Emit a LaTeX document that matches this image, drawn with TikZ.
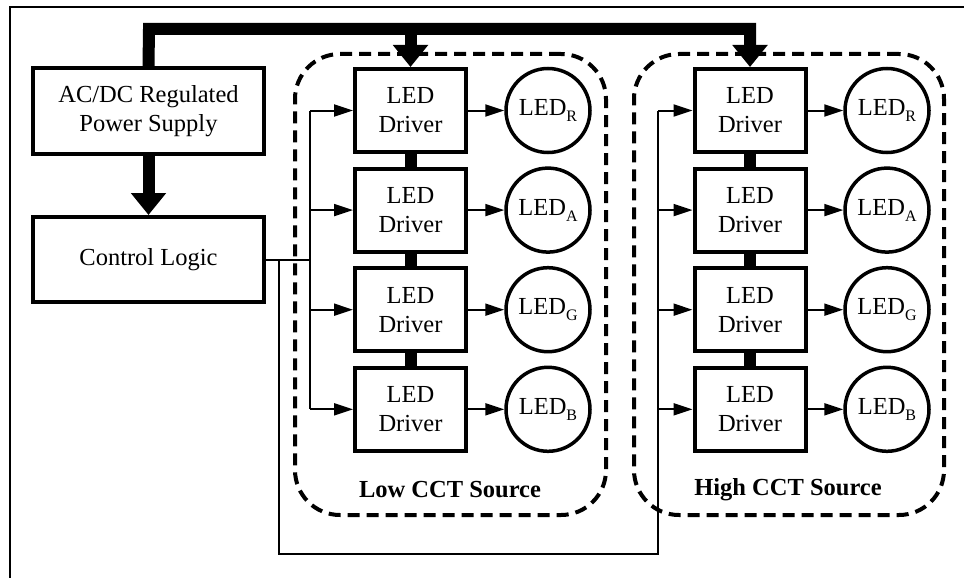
\documentclass[tikz,border=0pt]{standalone}
\usepackage{fontspec}
\setmainfont{Liberation Serif}
\usetikzlibrary{arrows.meta}
\newcommand{\ledsub}[1]{LED\raisebox{-6pt}{\fontsize{16}{16}\selectfont #1}}
\begin{document}
\begin{tikzpicture}[x=1pt,y=-1pt,
  every node/.style={font=\fontsize{24.5}{29}\selectfont},
  blk/.style={draw,line width=4pt,align=center,inner sep=0pt},
  mainbox/.style={blk,minimum width=231pt,minimum height=86pt},
  drv/.style={blk,minimum width=111pt,minimum height=83pt},
  led/.style={draw,circle,line width=3.5pt,minimum size=84pt,inner sep=0pt},
  grp/.style={draw,line width=4pt,dash pattern=on 12pt off 7pt,rounded corners=45pt,minimum height=461pt,inner sep=0pt},
  sig/.style={line width=2pt,-{Triangle[length=19pt,width=12pt]}},
  wire/.style={line width=2pt},
  bus/.style={line width=12pt,line join=miter},
  busarrow/.style={bus,-{Triangle[length=22pt,width=34pt]}},
  lbl/.style={font=\fontsize{24.5}{29}\selectfont\bfseries}
]
\useasboundingbox (0,0) rectangle (964,578);
% outer frame (only left and top edges visible)
\draw[line width=2pt] (9.5,580) -- (9.5,7) -- (966,7);

% groups
\node[grp,minimum width=311pt] (low) at (450.5,284.5) {};
\node[grp,minimum width=310pt] (high) at (789,284.5) {};
\node[lbl] (lowlbl) at (450,490) {Low CCT Source};
\node[lbl] (highlbl) at (788,490) {High CCT Source};

% main blocks
\node[mainbox] (ps) at (148.5,111) {AC/DC Regulated\\Power Supply};
\node[mainbox,minimum height=85pt] (cl) at (148.5,259.5) {Control Logic};

% drivers and LEDs
\foreach \i/\y/\s in {1/110.5/R,2/210.1/A,3/309.7/G,4/409.3/B}{
  \node[drv] (ld\i) at (410.5,\y) {LED\\Driver};
  \node[drv] (hd\i) at (750,\y) {LED\\Driver};
  \node[led] (ll\i) at (548,\y) {\ledsub{\s}};
  \node[led] (hl\i) at (887,\y) {\ledsub{\s}};
  \draw[sig] (ld\i.east) -- (ll\i.west);
  \draw[sig] (hd\i.east) -- (hl\i.west);
}

% thick links between drivers
\foreach \a/\b in {1/2,2/3,3/4}{
  \draw[bus] (ld\a.south) -- (ld\b.north);
  \draw[bus] (hd\a.south) -- (hd\b.north);
}

% power bus
\coordinate (bustop) at (149,29);
\draw[busarrow] (ps.north) -- (bustop) -| (hd1.north);
\draw[busarrow] (ld1.north |- bustop) -- (ld1.north);
\draw[busarrow] (ps.south) -- (cl.north);

% control wiring
\coordinate (lt) at (310,259.5);
\coordinate (jn) at (279,259.5);
\coordinate (ht) at (658,554);
\draw[wire] (cl.east) -- (lt);
\draw[wire] (ld1.west -| lt) -- (ld4.west -| lt);
\draw[wire] (jn) |- (ht) -- (hd1.west -| ht);
\foreach \i in {1,2,3,4}{
  \draw[sig] (ld\i.west -| lt) -- (ld\i.west);
  \draw[sig] (hd\i.west -| ht) -- (hd\i.west);
}
\end{tikzpicture}
\end{document}
